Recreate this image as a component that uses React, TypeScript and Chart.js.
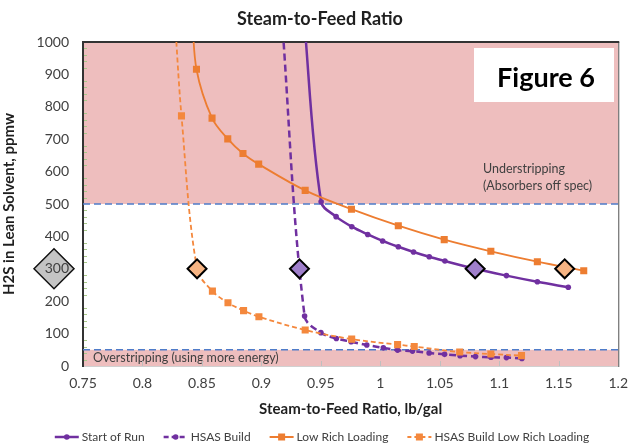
import React, { useEffect, useRef } from "react";
import { Chart, registerables } from "chart.js";

Chart.register(...registerables);

const FONT = "Lato, 'Open Sans', sans-serif";

// Axis ranges / ticks
const xMin = 0.75;
const xMax = 1.2;
const xStep = 0.05;
const yMin = 0;
const yMax = 1000;
const yStep = 100;

// Series names
const seriesNames = ["Start of Run", "HSAS Build", "Low Rich Loading", "HSAS Build Low Rich Loading"];

// Start of Run (solid purple)
const startOfRunX = [0.9352, 0.9502, 0.9628, 0.976, 0.9894, 1.0019, 1.0151, 1.0279, 1.0411, 1.0543, 1.0797, 1.106, 1.132, 1.158];
const startOfRunY = [1100, 507, 461, 430, 406, 386, 368, 352, 337, 324, 300, 279, 260, 243];

// HSAS Build (dashed purple)
const hsasX = [0.9167, 0.9363, 0.95, 0.963, 0.9754, 0.9886, 1.0025, 1.0145, 1.027, 1.041, 1.054, 1.067, 1.08, 1.093, 1.106, 1.119];
const hsasY = [1100, 154, 103, 85, 75, 65, 56, 49, 46, 40, 36, 32, 29, 27, 26, 23];

// Low Rich Loading (solid orange)
const lowRichX = [0.8418, 0.8454, 0.8585, 0.8717, 0.8845, 0.8977, 0.9368, 0.9757, 1.0151, 1.0537, 1.0929, 1.132, 1.171];
const lowRichY = [1100, 916, 765, 701, 656, 623, 542, 484, 433, 390, 354, 322, 294];

// HSAS Build Low Rich Loading (dashed orange)
const hsasLowX = [0.8268, 0.8328, 0.8459, 0.8588, 0.8719, 0.885, 0.8979, 0.9368, 0.9759, 1.0145, 1.0285, 1.0667, 1.0929, 1.1187];
const hsasLowY = [1100, 772, 300, 231, 195, 171, 152, 111, 83, 66, 60, 43, 37, 32];

// Operating-point diamonds
const diamondX = [0.8459, 0.932, 1.0797, 1.155];
const diamondY = [300, 300, 300, 300];
const diamondFill = ["#F6B483", "#9F7FCB", "#9F7FCB", "#F6B483"];

// Spec limits and axis marker
const understripLimit = 500;
const overstripLimit = 50;
const axisMarkerValue = 300;

const PURPLE = "#7030A0";
const ORANGE = "#ED7D31";
const ORANGE_D = "#F4883D";

const pts = (xs: number[], ys: number[]) => xs.map((x, i) => ({ x, y: ys[i] }));
const radii = (ys: number[], r: number) => ys.map((y) => (y > yMax ? 0 : r));

const legendItems = [
  { label: seriesNames[0], color: PURPLE, dash: [] as number[], width: 2.5, marker: "circle" },
  { label: seriesNames[1], color: PURPLE, dash: [5, 3], width: 2.5, marker: "circle" },
  { label: seriesNames[2], color: ORANGE, dash: [] as number[], width: 2, marker: "square" },
  { label: seriesNames[3], color: ORANGE_D, dash: [4, 3], width: 2, marker: "square" },
];

const decor = {
  id: "decor",
  beforeDraw(chart: any) {
    const { ctx, chartArea: a, scales } = chart;
    const y = scales.y;
    const x = scales.x;
    ctx.save();
    // pink bands
    ctx.fillStyle = "#EEBEBE";
    const yU = y.getPixelForValue(understripLimit);
    ctx.fillRect(a.left, a.top, a.right - a.left, yU - a.top);
    const yO = y.getPixelForValue(overstripLimit);
    ctx.fillRect(a.left, yO, a.right - a.left, a.bottom - yO + 1);

    // gray diamond on y-axis label
    const yd = y.getPixelForValue(axisMarkerValue);
    const cx = 54;
    const h = 20;
    ctx.beginPath();
    ctx.moveTo(cx, yd - h);
    ctx.lineTo(cx + h, yd);
    ctx.lineTo(cx, yd + h);
    ctx.lineTo(cx - h, yd);
    ctx.closePath();
    ctx.fillStyle = "#C4C4C4";
    ctx.fill();
    ctx.lineWidth = 1.5;
    ctx.strokeStyle = "#111111";
    ctx.stroke();

    // annotations
    ctx.fillStyle = "#404040";
    ctx.font = `12.5px ${FONT}`;
    ctx.textAlign = "left";
    ctx.textBaseline = "alphabetic";
    ctx.fillText("Understripping", 483, 173);
    ctx.fillText("(Absorbers off spec)", 483, 190);
    ctx.fillText("Overstripping (using more energy)", 93, 362);

    // minor y ticks
    ctx.strokeStyle = "#A8C98A";
    ctx.lineWidth = 1;
    for (let v = yMin + 20; v < yMax; v += 20) {
      if (v % 100 === 0) continue;
      const py = Math.round(y.getPixelForValue(v)) + 0.5;
      ctx.beginPath();
      ctx.moveTo(a.left, py);
      ctx.lineTo(a.left + 4, py);
      ctx.stroke();
    }
    // x ticks inside
    ctx.strokeStyle = "#BFBFBF";
    for (let v = xMin + xStep; v < xMax - 1e-6; v += xStep) {
      const px = Math.round(x.getPixelForValue(v)) + 0.5;
      ctx.beginPath();
      ctx.moveTo(px, a.bottom);
      ctx.lineTo(px, a.bottom - 5);
      ctx.stroke();
    }
    // borders
    ctx.strokeStyle = "#D0D0D0";
    ctx.beginPath();
    ctx.moveTo(a.left, a.bottom + 0.5);
    ctx.lineTo(a.right, a.bottom + 0.5);
    ctx.stroke();
    ctx.strokeStyle = "#6E6E6E";
    ctx.lineWidth = 1.2;
    ctx.beginPath();
    ctx.moveTo(a.right + 0.5, a.top);
    ctx.lineTo(a.right + 0.5, a.bottom + 1);
    ctx.stroke();
    ctx.strokeStyle = "#333333";
    ctx.lineWidth = 2;
    ctx.beginPath();
    ctx.moveTo(a.left, a.top);
    ctx.lineTo(a.right + 1, a.top);
    ctx.stroke();
    ctx.restore();
  },
  beforeDatasetsDraw(chart: any) {
    const { ctx, chartArea: a, scales } = chart;
    const y = scales.y;
    ctx.save();
    ctx.strokeStyle = "#4F7CC9";
    ctx.lineWidth = 1.6;
    ctx.setLineDash([7, 4]);
    [understripLimit, overstripLimit].forEach((v) => {
      const py = y.getPixelForValue(v);
      ctx.beginPath();
      ctx.moveTo(a.left, py);
      ctx.lineTo(a.right, py);
      ctx.stroke();
    });
    ctx.restore();
  },
  afterDraw(chart: any) {
    const { ctx, chartArea: a } = chart;
    ctx.save();
    // title
    ctx.fillStyle = "#1F1F1F";
    ctx.textAlign = "center";
    ctx.textBaseline = "middle";
    ctx.font = `bold 18px ${FONT}`;
    ctx.fillText("Steam-to-Feed Ratio", 320, 19);
    // x title
    ctx.font = `bold 15px ${FONT}`;
    ctx.fillText("Steam-to-Feed Ratio, lb/gal", (a.left + a.right) / 2, 409);
    // y title
    ctx.save();
    ctx.translate(9, (a.top + a.bottom) / 2);
    ctx.rotate(-Math.PI / 2);
    ctx.fillText("H2S in Lean Solvent, ppmw", 0, 0);
    ctx.restore();

    // Figure 6 box
    ctx.fillStyle = "#FFFFFF";
    ctx.fillRect(474, 48, 140, 54);
    ctx.fillStyle = "#000000";
    ctx.font = `bold 27px ${FONT}`;
    ctx.textBaseline = "alphabetic";
    ctx.fillText("Figure 6", 546, 87);

    // legend
    ctx.font = `12px ${FONT}`;
    ctx.textAlign = "left";
    ctx.textBaseline = "middle";
    const lineLen = 24;
    const gapLT = 3;
    const gapItem = 19;
    const widths = legendItems.map((it) => lineLen + gapLT + ctx.measureText(it.label).width);
    const total = widths.reduce((s, w) => s + w, 0) + gapItem * (legendItems.length - 1);
    let lx = 322 - total / 2;
    const ly = 437;
    legendItems.forEach((it, i) => {
      ctx.strokeStyle = it.color;
      ctx.lineWidth = it.width;
      ctx.setLineDash(it.dash);
      ctx.beginPath();
      ctx.moveTo(lx, ly);
      ctx.lineTo(lx + lineLen, ly);
      ctx.stroke();
      ctx.setLineDash([]);
      ctx.fillStyle = it.color;
      const mx = lx + lineLen / 2;
      if (it.marker === "circle") {
        ctx.beginPath();
        ctx.arc(mx, ly, 2.8, 0, Math.PI * 2);
        ctx.fill();
      } else {
        ctx.fillRect(mx - 3.5, ly - 3.5, 7, 7);
      }
      ctx.fillStyle = "#404040";
      ctx.fillText(it.label, lx + lineLen + gapLT, ly);
      lx += widths[i] + gapItem;
    });
    ctx.restore();
  },
};

export default function App() {
  const ref = useRef<HTMLCanvasElement>(null);
  useEffect(() => {
    if (!ref.current) return;
    const chart = new Chart(ref.current, {
      type: "line",
      data: {
        datasets: [
          {
            label: seriesNames[0],
            data: pts(startOfRunX, startOfRunY),
            borderColor: PURPLE,
            backgroundColor: PURPLE,
            borderWidth: 2.5,
            pointRadius: radii(startOfRunY, 2.8),
            pointStyle: "circle",
            pointBorderWidth: 0,
            tension: 0.35,
            order: 3,
          },
          {
            label: seriesNames[1],
            data: pts(hsasX, hsasY),
            borderColor: PURPLE,
            backgroundColor: PURPLE,
            borderWidth: 2.5,
            borderDash: [7, 4],
            pointRadius: radii(hsasY, 2.8),
            pointStyle: "circle",
            pointBorderWidth: 0,
            tension: 0.35,
            order: 4,
          },
          {
            label: seriesNames[2],
            data: pts(lowRichX, lowRichY),
            borderColor: ORANGE,
            backgroundColor: ORANGE,
            borderWidth: 1.8,
            pointRadius: radii(lowRichY, 5),
            pointStyle: "rect",
            pointBorderWidth: 0,
            tension: 0.35,
            order: 2,
          },
          {
            label: seriesNames[3],
            data: pts(hsasLowX, hsasLowY),
            borderColor: ORANGE_D,
            backgroundColor: ORANGE_D,
            borderWidth: 1.8,
            borderDash: [5, 3],
            pointRadius: radii(hsasLowY, 5),
            pointStyle: "rect",
            pointBorderWidth: 0,
            tension: 0.35,
            order: 1,
          },
          {
            label: "Operating point",
            data: pts(diamondX, diamondY),
            showLine: false,
            pointStyle: "rectRot",
            pointRadius: 9.5,
            pointBackgroundColor: diamondFill,
            pointBorderColor: "#000000",
            pointBorderWidth: 2,
            order: 0,
          },
        ],
      },
      options: {
        responsive: true,
        maintainAspectRatio: false,
        animation: false,
        layout: { padding: { top: 42, right: 18, left: 0, bottom: 0 } },
        plugins: {
          legend: { display: false },
          title: { display: false },
          tooltip: { enabled: false },
        },
        scales: {
          x: {
            type: "linear",
            min: xMin,
            max: xMax,
            grid: { display: false, drawTicks: false },
            border: { display: false },
            ticks: {
              stepSize: xStep,
              padding: 9,
              color: "#404040",
              font: { family: FONT, size: 14 },
              callback: (v: any) => String(Math.round(Number(v) * 100) / 100),
              maxRotation: 0,
            },
            afterFit: (s: any) => {
              s.height = 81;
            },
          },
          y: {
            type: "linear",
            min: yMin,
            max: yMax,
            grid: { display: false, drawTicks: false },
            border: { display: true, color: "#333333", width: 2 },
            ticks: {
              stepSize: yStep,
              padding: 14,
              color: "#404040",
              font: { family: FONT, size: 14 },
              callback: (v: any) => String(Math.round(Number(v))),
            },
            afterFit: (s: any) => {
              s.width = 83;
            },
          },
        },
      },
      plugins: [decor],
    });
    return () => chart.destroy();
  }, []);
  return (
    <div style={{ position: "fixed", left: 0, top: 0, width: 637, height: 447, background: "#fff" }}>
      <canvas ref={ref} />
    </div>
  );
}
